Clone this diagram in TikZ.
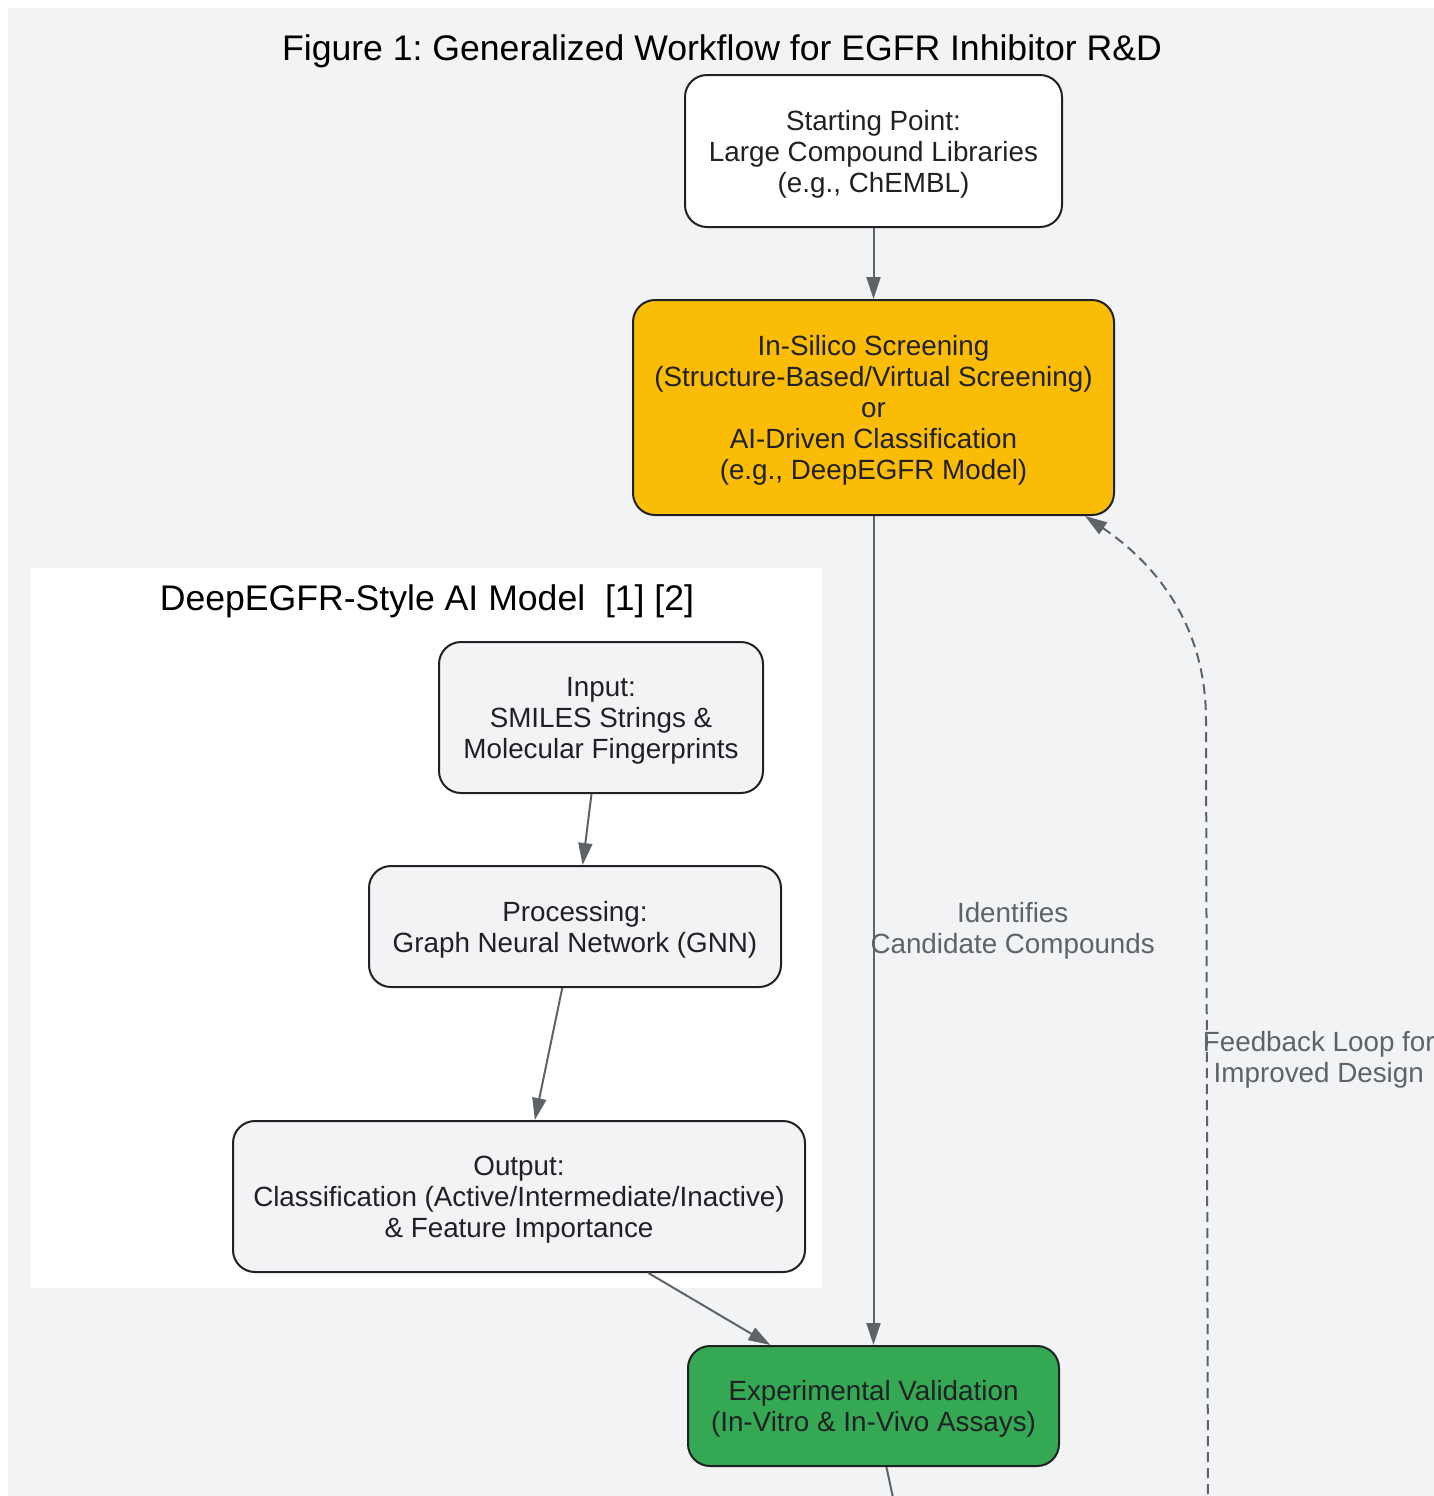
\documentclass[tikz,border=0pt]{standalone}
\usepackage{fontspec}
\setmainfont{Liberation Sans}
\usetikzlibrary{arrows.meta}
\frenchspacing

\definecolor{bggray}{HTML}{F1F3F4}
\definecolor{ink}{HTML}{202124}
\definecolor{edgegray}{HTML}{5F6368}
\definecolor{gyellow}{HTML}{FBBC05}
\definecolor{ggreen}{HTML}{34A853}

\tikzset{
  box/.style={
    draw=ink,
    line width=1pt,
    rounded corners=11pt,
    align=center,
    text=ink,
    inner sep=0pt,
    text depth=0pt,
    font=\fontsize{13.9}{15.5}\selectfont,
  },
  flow/.style={
    edgegray,
    line width=1pt,
    -{Triangle[length=11pt,width=7pt]},
  },
  flowlabel/.style={
    text=edgegray,
    align=center,
    inner sep=0pt,
    font=\fontsize{13.9}{15.5}\selectfont,
  },
  heading/.style={
    text=black,
    inner sep=0pt,
    font=\fontsize{17.8}{20}\selectfont,
  },
}

\begin{document}
\begin{tikzpicture}[x=0.5pt,y=-0.5pt]
  \useasboundingbox (0,0) rectangle (1434,1496);
  \clip (0,0) rectangle (1434,1496);
  \fill[bggray] (8,8) rectangle (1440,1510);

  \node[heading] (title) at (722,51) {Figure 1: Generalized Workflow for EGFR Inhibitor R\&D};

  % AI model cluster
  \fill[white] (31,568) rectangle (822,1288);
  \node[heading] (clustertitle) at (427,601) {DeepEGFR-Style AI Model~~[1] [2]};

  \node[
    box,
    fill=white,
    minimum width=188.5pt,
    minimum height=76pt,
  ] (start) at (873.5,151) {Starting Point:\\Large Compound Libraries\\(e.g., ChEMBL)};

  \node[
    box,
    fill=gyellow,
    minimum width=240.5pt,
    minimum height=107.5pt,
  ] (screen) at (873.5,407.5) {In-Silico Screening\\(Structure-Based/Virtual Screening)\\or\\AI-Driven Classification\\(e.g., DeepEGFR Model)};

  \node[
    box,
    fill=bggray,
    minimum width=162pt,
    minimum height=75.5pt,
  ] (input) at (601,717.5) {Input:\\SMILES Strings \&\\Molecular Fingerprints};

  \node[
    box,
    fill=bggray,
    minimum width=206pt,
    minimum height=60.5pt,
  ] (gnn) at (575,926.5) {Processing:\\Graph Neural Network (GNN)};

  \node[
    box,
    fill=bggray,
    minimum width=286pt,
    minimum height=75.5pt,
  ] (output) at (519,1196.5) {Output:\\Classification (Active/Intermediate/Inactive)\\\& Feature Importance};

  \node[
    box,
    fill=ggreen,
    minimum width=185.5pt,
    minimum height=60pt,
  ] (valid) at (873.5,1406) {Experimental Validation\\(In-Vitro \& In-Vivo Assays)};

  % ends running off the page
  \coordinate (validout) at (899,1526);
  \coordinate (fbin) at (1208,1510);
  \coordinate (fbbend) at (1206,720);

  \draw[flow] (start) -- (screen);
  \draw[flow] (screen) -- node[flowlabel,midway,right,xshift=-2pt] {Identifies\\Candidate Compounds} (valid);
  \draw[flow] (input) -- (gnn);
  \draw[flow] (gnn) -- (output);
  \draw[flow] (output) -- (valid);
  \draw[edgegray,line width=1pt] (valid) -- (validout);

  % Feedback loop
  \draw[flow,dash pattern=on 5pt off 3pt] (fbin)
    -- node[flowlabel,pos=0.57,right,xshift=-2.5pt] {Feedback Loop for\\Improved Design} (fbbend)
    .. controls (1206,620) and (1150,560) .. ([xshift=-15pt]screen.south east);
\end{tikzpicture}
\end{document}
